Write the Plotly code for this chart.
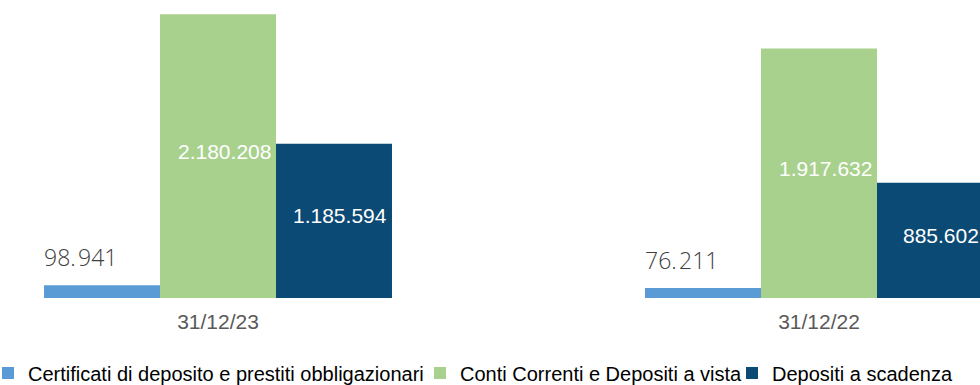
import plotly.graph_objects as go

categories = ["31/12/23", "31/12/22"]
series_names = [
    "Certificati di deposito e prestiti obbligazionari",
    "Conti Correnti e Depositi a vista",
    "Depositi a scadenza",
]
certificati = [98941, 76211]
conti_correnti = [2180208, 1917632]
depositi_scadenza = [1185594, 885602]

colors = ["#5B9BD5", "#A9D18E", "#0B4A74"]


def fmt(v):
    return f"{v:,}".replace(",", ".")


W, H = 980, 385
plot_bottom = 298  # pixel row of baseline
units_per_px = 7685
bar_px = 116  # pixel width of one bar within the group

fig = go.Figure()

fig.add_trace(go.Bar(
    x=categories, y=certificati, name=series_names[0],
    marker=dict(color=colors[0], line=dict(width=0)),
    legend="legend",
))
fig.add_trace(go.Bar(
    x=categories, y=conti_correnti, name=series_names[1],
    marker=dict(color=colors[1], line=dict(width=0)),
    legend="legend2",
))
fig.add_trace(go.Bar(
    x=categories, y=depositi_scadenza, name=series_names[2],
    marker=dict(color=colors[2], line=dict(width=0)),
    legend="legend3",
))

# outside labels for the small bars
for c, v in zip(categories, certificati):
    fig.add_annotation(
        x=c, y=v, xref="x", yref="y", text=fmt(v).replace(".", ".\u200a"),
        showarrow=False, xanchor="center", yanchor="middle",
        xshift=-138, yshift=28,
        font=dict(family="Open Sans", size=23, color="#404040", weight=300),
    )

# inside labels (white), placed at the middle of each bar
inside_font = dict(color="white", size=21, family="Arial, Liberation Sans")
for c, v in zip(categories, conti_correnti):
    fig.add_annotation(
        x=c, y=v / 2, xref="x", yref="y", text=fmt(v), showarrow=False,
        xanchor="center", yanchor="middle", xshift=6, yshift=5,
        font=inside_font,
    )
for c, v in zip(categories, depositi_scadenza):
    fig.add_annotation(
        x=c, y=v / 2, xref="x", yref="y", text=fmt(v), showarrow=False,
        xanchor="center", yanchor="middle", xshift=bar_px + 6, yshift=5,
        font=inside_font,
    )

# category axis: centre of first group at x=218px, second at 819px
px_per_cat = 601.0
r0 = -218 / px_per_cat
r1 = r0 + W / px_per_cat

legend_common = dict(
    orientation="h", bgcolor="rgba(0,0,0,0)", borderwidth=0,
    font=dict(family="Arial, Liberation Sans", size=20, color="#000000"),
    xanchor="left", yanchor="middle", y=-(373 - plot_bottom) / plot_bottom,
)

fig.update_layout(
    width=W, height=H,
    margin=dict(l=0, r=0, t=0, b=H - plot_bottom, autoexpand=False),
    paper_bgcolor="white", plot_bgcolor="white",
    barmode="group", bargap=0.421, bargroupgap=0,
    showlegend=True,
    legend=dict(legend_common, x=(29 - 41) / W),
    legend2=dict(legend_common, x=(461 - 41) / W),
    legend3=dict(legend_common, x=(773 - 41) / W),
    xaxis=dict(
        type="category", range=[r0, r1], showgrid=False, zeroline=False,
        showline=False, ticks="", ticklabelstandoff=9,
        tickfont=dict(family="Arial, Liberation Sans", size=21, color="#595959"),
    ),
    yaxis=dict(
        range=[0, plot_bottom * units_per_px], visible=False,
        showgrid=False, zeroline=False,
    ),
)

fig.write_html("out.html")
